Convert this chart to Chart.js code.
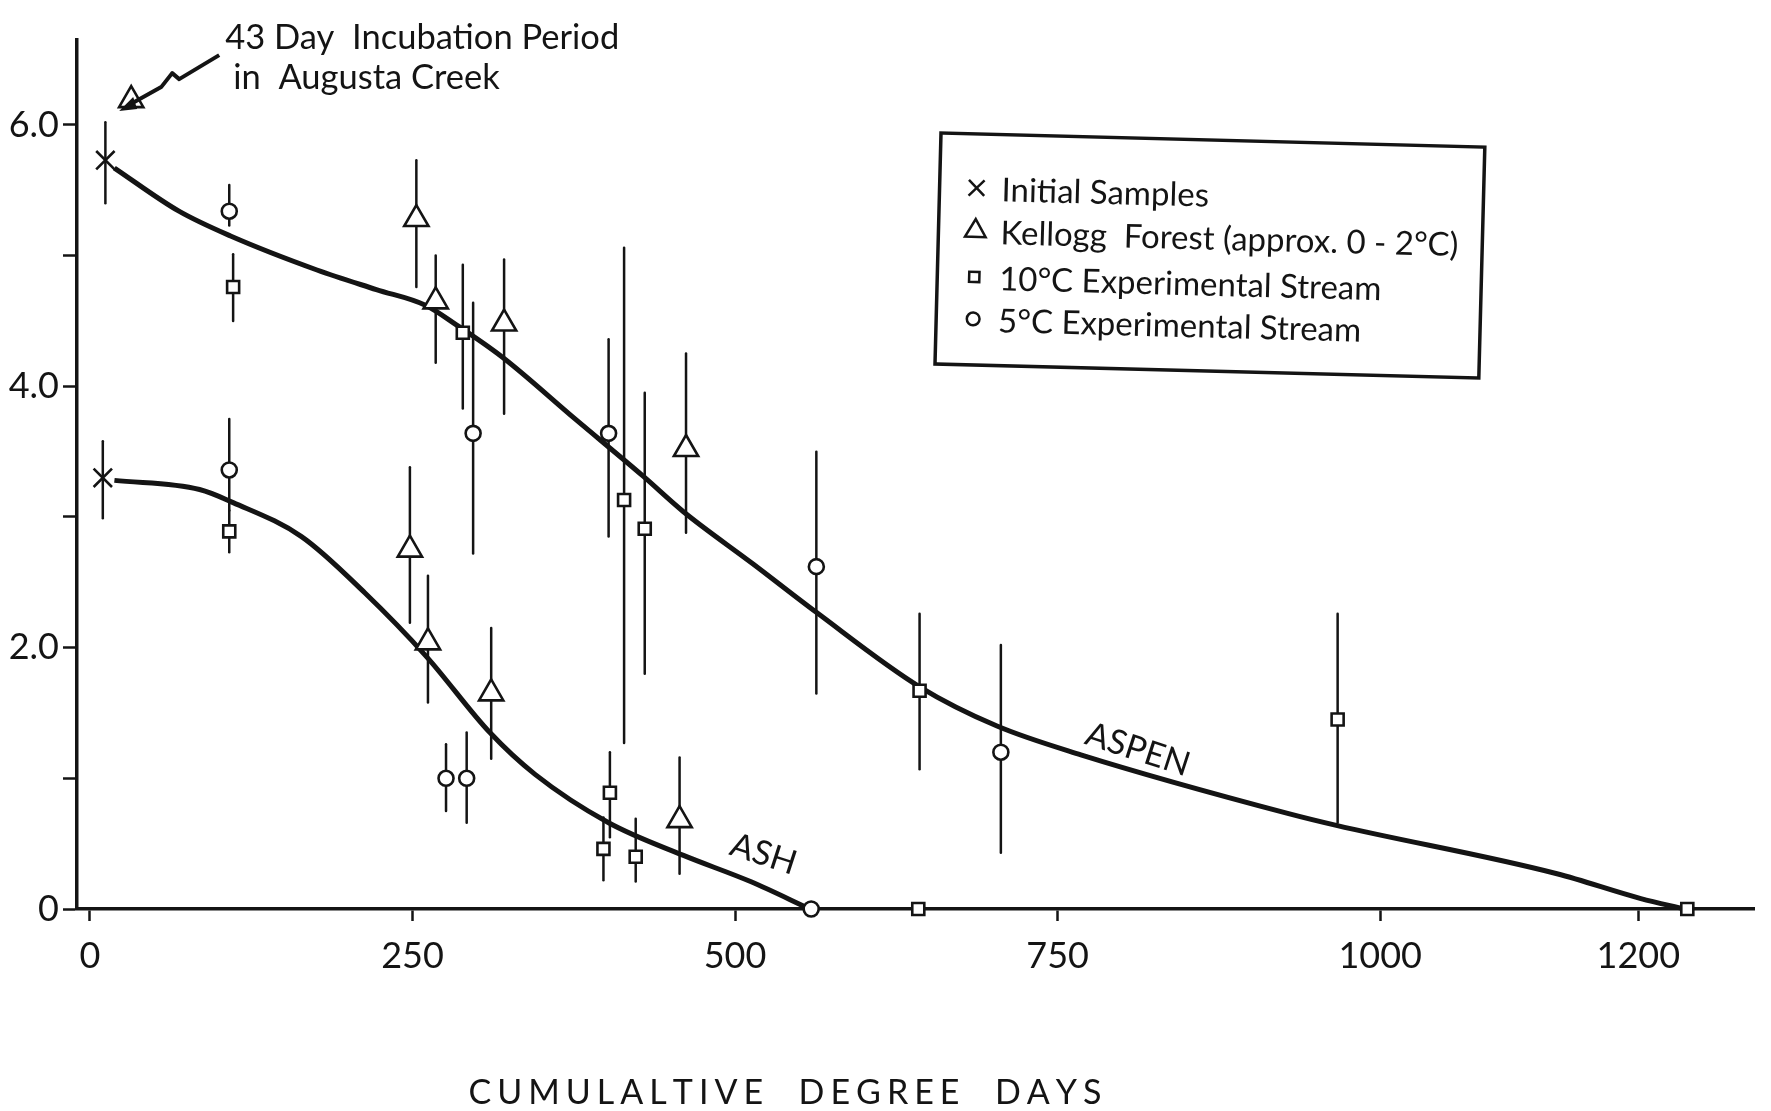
<!DOCTYPE html>
<html>
<head>
<meta charset="utf-8">
<title>Cumulative degree days</title>
<script src="https://cdn.jsdelivr.net/npm/chart.js@4.4.1/dist/chart.umd.min.js"></script>
<style>
  html, body { margin: 0; padding: 0; background: #fff; }
  #wrap { width: 1771px; height: 1111px; position: relative; }
</style>
</head>
<body>
<div id="wrap"><canvas id="decayChart"></canvas></div>
<script>
// fitted curves
const aspenCurveX = [19, 69, 109, 176, 222, 260, 284, 320, 376, 429, 460, 514, 563, 643, 703, 768, 929, 966, 1137, 1202, 1236];
const aspenCurveY = [5.67, 5.34, 5.15, 4.89, 4.74, 4.62, 4.47, 4.22, 3.75, 3.31, 3.04, 2.64, 2.27, 1.70, 1.40, 1.18, 0.73, 0.64, 0.27, 0.08, 0.0];
const ashCurveX = [19, 85, 111, 164, 213, 261, 310, 345, 402, 460, 512, 558];
const ashCurveY = [3.28, 3.21, 3.11, 2.85, 2.42, 1.93, 1.35, 1.03, 0.66, 0.41, 0.21, 0.0];

// Initial samples (x)
const initialX = [12, 10];
const initialY = [5.73, 3.30];
const initialLo = [5.40, 2.99];
const initialHi = [6.02, 3.58];

// Kellogg Forest (triangles)
const kelloggX = [253, 268, 321, 462, 248, 262, 311, 457];
const kelloggY = [5.28, 4.65, 4.48, 3.52, 2.75, 2.04, 1.65, 0.68];
const kelloggLo = [4.76, 4.18, 3.79, 2.88, 2.19, 1.58, 1.15, 0.27];
const kelloggHi = [5.73, 5.00, 4.97, 4.25, 3.38, 2.55, 2.15, 1.16];

// 43 day incubation in Augusta Creek
const augustaX = [32];
const augustaY = [6.19];

// 10 C experimental stream (squares)
const stream10X = [111, 108, 289, 414, 430, 403, 398, 423, 642, 643, 967, 1238];
const stream10Y = [4.76, 2.89, 4.41, 3.13, 2.91, 0.89, 0.46, 0.40, 0.0, 1.67, 1.45, 0.0];
const stream10Lo = [4.50, 2.73, 3.83, 1.27, 1.80, 0.55, 0.22, 0.21, null, 1.07, 0.66, null];
const stream10Hi = [5.01, 3.05, 4.93, 5.06, 3.95, 1.20, 0.70, 0.69, null, 2.26, 2.26, null];

// 5 C experimental stream (circles)
const stream5X = [108, 108, 297, 402, 276, 292, 563, 706, 559];
const stream5Y = [5.34, 3.36, 3.64, 3.64, 1.00, 1.00, 2.62, 1.20, 0.0];
const stream5Lo = [5.23, 3.05, 2.72, 2.85, 0.75, 0.66, 1.65, 0.43, null];
const stream5Hi = [5.54, 3.75, 4.64, 4.36, 1.26, 1.35, 3.50, 2.02, null];

const xTickValues = [0, 250, 500, 750, 1000, 1200];
const yTickValues = [0, 1, 2, 3, 4, 5, 6];
const yLabelled = [0, 2, 4, 6];
const xTitle = 'CUMULALTIVE  DEGREE  DAYS';
const note = ['43 Day  Incubation Period', 'in  Augusta Creek'];

const ink = '#141414';
const fontFamily = 'Lato, "Open Sans", sans-serif';

function pts(xs, ys, lo, hi) {
    return xs.map((x, i) => ({ x: x, y: ys[i], yMin: lo ? lo[i] : null, yMax: hi ? hi[i] : null }));
}

function marker(label, xs, ys, lo, hi, style, radius) {
    return {
        type: 'scatter',
        label: label,
        data: pts(xs, ys, lo, hi),
        pointStyle: style,
        pointRadius: radius,
        pointHoverRadius: radius,
        pointBackgroundColor: '#fff',
        pointBorderColor: ink,
        pointBorderWidth: 2.6,
        clip: false,
        order: 1
    };
}

function curve(label, xs, ys) {
    return {
        type: 'line',
        label: label,
        data: pts(xs, ys),
        borderColor: ink,
        borderWidth: 5,
        pointRadius: 0,
        cubicInterpolationMode: 'monotone',
        fill: false,
        clip: false,
        order: 5
    };
}

// vertical error bars behind the markers
const errorBars = {
    id: 'errorBars',
    beforeDatasetsDraw(chart) {
        const ctx = chart.ctx, xs = chart.scales.x, ys = chart.scales.y;
        ctx.save();
        ctx.strokeStyle = ink;
        ctx.lineWidth = 2.5;
        ctx.lineCap = 'round';
        chart.data.datasets.forEach(ds => {
            ds.data.forEach(p => {
                if (p.yMin == null || p.yMax == null) return;
                const px = xs.getPixelForValue(p.x);
                ctx.beginPath();
                ctx.moveTo(px, ys.getPixelForValue(p.yMin));
                ctx.lineTo(px, ys.getPixelForValue(p.yMax));
                ctx.stroke();
            });
        });
        ctx.restore();
    }
};

function spacedText(ctx, text, cx, cy, width) {
    const chars = [...text];
    const widths = chars.map(c => ctx.measureText(c).width);
    const natural = widths.reduce((a, b) => a + b, 0);
    const gap = (width - natural) / (chars.length - 1);
    let x = cx - width / 2;
    ctx.textAlign = 'left';
    chars.forEach((c, i) => { ctx.fillText(c, x, cy); x += widths[i] + gap; });
}

// legend box, notes, curve names and axis title
const annotate = {
    id: 'annotate',
    afterDraw(chart) {
        const ctx = chart.ctx, xs = chart.scales.x, ys = chart.scales.y;
        const ds = chart.data.datasets;
        ctx.save();
        ctx.fillStyle = ink;
        ctx.strokeStyle = ink;
        ctx.textBaseline = 'middle';

        // legend
        ctx.save();
        ctx.translate(941, 133);
        ctx.rotate(0.026);
        ctx.lineWidth = 3.5;
        ctx.strokeRect(0, 0, 544, 231);
        const entries = [2, 3, 4, 5];
        const rowsY = [56, 99, 145, 187];
        ctx.font = '400 100px ' + fontFamily;
        const size = 100 * 458 / ctx.measureText(ds[3].label).width;
        ctx.font = '400 ' + size.toFixed(1) + 'px ' + fontFamily;
        entries.forEach((k, i) => {
            const d = ds[k];
            ctx.fillStyle = d.pointStyle === 'crossRot' ? ink : '#fff';
            ctx.lineWidth = 2.5;
            Chart.helpers.drawPoint(ctx, { pointStyle: d.pointStyle, radius: d.pointRadius * 0.85, rotation: 0, borderWidth: 2.5 }, 37, rowsY[i] - 2);
            ctx.fillStyle = ink;
            ctx.textAlign = 'left';
            ctx.fillText(d.label, 62, rowsY[i]);
        });
        ctx.restore();

        // 43 day note with arrow
        const tx = xs.getPixelForValue(augustaX[0]);
        const ty = ys.getPixelForValue(augustaY[0]);
        ctx.font = '400 34.5px ' + fontFamily;
        ctx.textAlign = 'left';
        ctx.fillText(note[0], tx + 94, ty - 62);
        ctx.fillText(note[1], tx + 102, ty - 22);
        ctx.lineWidth = 4;
        ctx.lineJoin = 'round';
        ctx.beginPath();
        ctx.moveTo(tx + 88, ty - 45);
        ctx.lineTo(tx + 48, ty - 21);
        ctx.lineTo(tx + 41, ty - 27);
        ctx.lineTo(tx + 30, ty - 13);
        ctx.lineTo(tx - 4, ty + 6);
        ctx.stroke();
        ctx.beginPath();
        ctx.moveTo(tx - 12, ty + 11);
        ctx.lineTo(tx + 2, ty - 3);
        ctx.lineTo(tx + 6, ty + 9);
        ctx.closePath();
        ctx.fill();

        // curve names
        ctx.font = '400 34px ' + fontFamily;
        ctx.textAlign = 'center';
        [['ASPEN', 812, 1.22, 18], ['ASH', 522, 0.42, 18]].forEach(([t, vx, vy, deg]) => {
            ctx.save();
            ctx.translate(xs.getPixelForValue(vx), ys.getPixelForValue(vy));
            ctx.rotate(deg * Math.PI / 180);
            ctx.fillText(t, 0, 0);
            ctx.restore();
        });

        // x axis title
        ctx.font = '400 34px ' + fontFamily;
        spacedText(ctx, xTitle, 785, 1093, 633);
        ctx.restore();
    }
};

new Chart(document.getElementById('decayChart'), {
    data: {
        datasets: [
            curve('ASPEN', aspenCurveX, aspenCurveY),
            curve('ASH', ashCurveX, ashCurveY),
            marker('Initial Samples', initialX, initialY, initialLo, initialHi, 'crossRot', 13),
            marker('Kellogg  Forest (approx. 0 - 2\u00b0C)', kelloggX, kelloggY, kelloggLo, kelloggHi, 'triangle', 14),
            marker('10\u00b0C Experimental Stream', stream10X, stream10Y, stream10Lo, stream10Hi, 'rect', 8.5),
            marker('5\u00b0C Experimental Stream', stream5X, stream5Y, stream5Lo, stream5Hi, 'circle', 7.5),
            marker('43 Day Incubation Period in Augusta Creek', augustaX, augustaY, null, null, 'triangle', 14)
        ]
    },
    options: {
        responsive: true,
        maintainAspectRatio: false,
        animation: false,
        devicePixelRatio: 1,
        layout: { padding: { top: 40, right: 0, left: 0, bottom: 0 } },
        plugins: {
            legend: { display: false },
            tooltip: { enabled: false }
        },
        scales: {
            x: {
                type: 'linear',
                min: -10,
                max: 1290,
                afterBuildTicks: scale => { scale.ticks = xTickValues.map(v => ({ value: v })); },
                afterFit: scale => { scale.height = 202; },
                grid: { drawOnChartArea: false, drawTicks: true, tickLength: 12, tickWidth: 2.5, tickColor: ink },
                border: { display: true, color: ink, width: 3.5 },
                ticks: {
                    autoSkip: false,
                    maxRotation: 0,
                    padding: 14,
                    color: ink,
                    font: { family: fontFamily, size: 36 },
                    callback: v => String(v)
                }
            },
            y: {
                type: 'linear',
                min: 0,
                max: 6.65,
                afterBuildTicks: scale => { scale.ticks = yTickValues.map(v => ({ value: v })); },
                afterFit: scale => { scale.width = 77; },
                grid: { drawOnChartArea: false, drawTicks: true, tickLength: 14, tickWidth: 2.5, tickColor: ink },
                border: { display: true, color: ink, width: 3.5 },
                ticks: {
                    autoSkip: false,
                    padding: 4,
                    color: ink,
                    font: { family: fontFamily, size: 36 },
                    callback: v => yLabelled.includes(v) ? (v === 0 ? '0' : v.toFixed(1)) : ''
                }
            }
        }
    },
    plugins: [errorBars, annotate]
});
</script>
</body>
</html>
